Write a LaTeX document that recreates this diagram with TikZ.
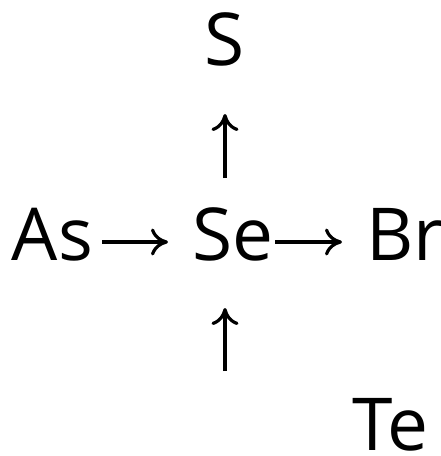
\documentclass[tikz,border=0pt]{standalone}
\usepackage{fontspec}
\setsansfont{Open Sans}
\usetikzlibrary{arrows.meta}
\begin{document}
\begin{tikzpicture}[x=1pt,y=-1pt,
  lbl/.style={inner sep=0pt,outer sep=0pt,font=\fontsize{73}{88}\selectfont\sffamily},
  arr/.style={line width=3.2pt,-{Computer Modern Rightarrow[length=17pt,width=27pt,line width=3.2pt]}}]
\useasboundingbox (0,0) rectangle (440,456);
\node[lbl,anchor=base] (S) at (225,65) {S};
\node[lbl,anchor=base west] (As) at (12,260) {As};
\node[lbl,anchor=base west] (Se) at (192,260) {Se};
\node[lbl,anchor=base west] (Br) at (366,260) {Br};
\node[lbl,anchor=base west] (Te) at (352,450) {Te};
\coordinate (h1a) at (102,242);
\coordinate (h1b) at (168,242);
\coordinate (h2a) at (275,242);
\coordinate (h2b) at (342,242);
\coordinate (v1a) at (225,178);
\coordinate (v1b) at (225,114);
\coordinate (v2a) at (225,371);
\coordinate (v2b) at (225,308);
\draw[arr] (h1a) -- (h1b);
\draw[arr] (h2a) -- (h2b);
\draw[arr] (v1a) -- (v1b);
\draw[arr] (v2a) -- (v2b);
\end{tikzpicture}
\end{document}
